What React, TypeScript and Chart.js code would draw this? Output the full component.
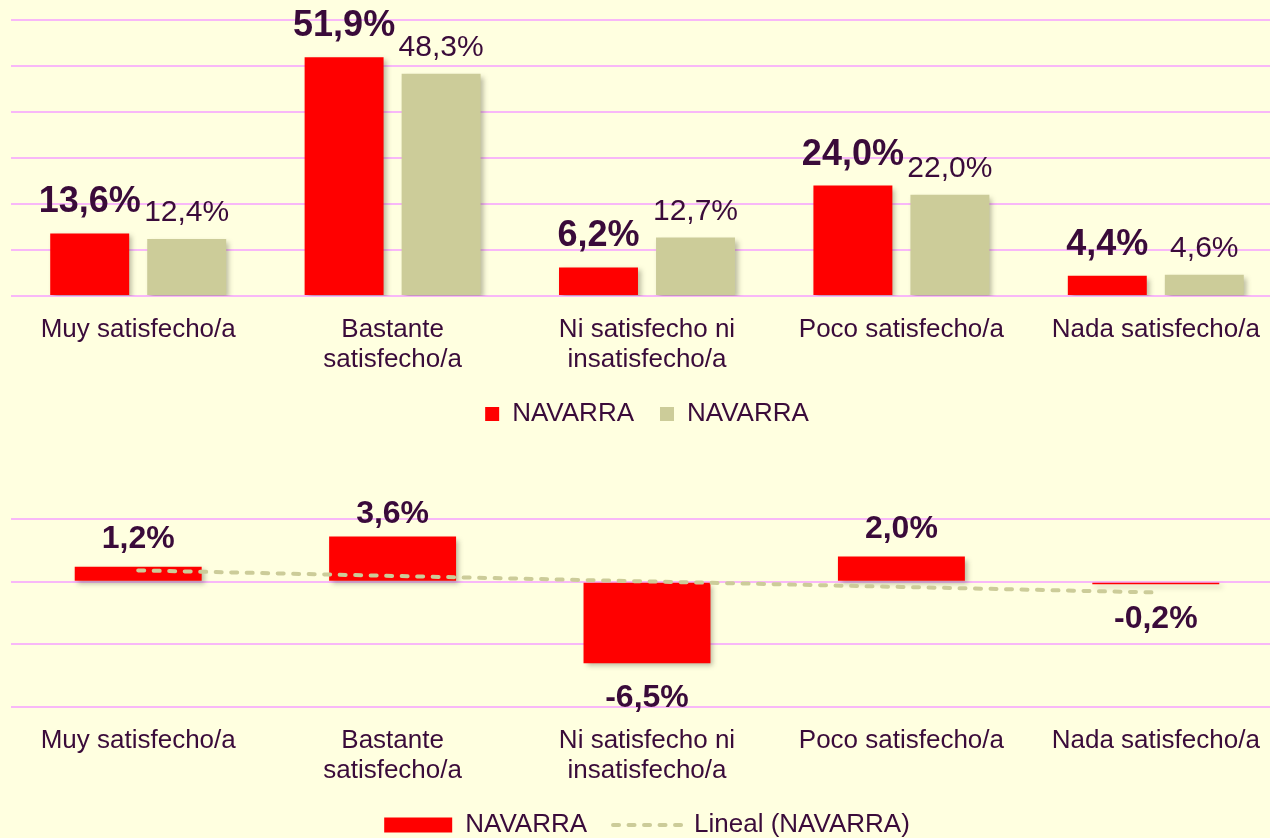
import React, { useEffect, useRef } from 'react';
import { Chart, registerables } from 'chart.js';

Chart.register(...registerables);

// ---------- data ----------
const categories: (string | string[])[] = [
  'Muy satisfecho/a',
  ['Bastante', 'satisfecho/a'],
  ['Ni satisfecho ni', 'insatisfecho/a'],
  'Poco satisfecho/a',
  'Nada satisfecho/a',
];
const seriesNames = ['NAVARRA', 'NAVARRA'];
const seriesA = [13.6, 51.9, 6.2, 24.0, 4.4];
const seriesB = [12.4, 48.3, 12.7, 22.0, 4.6];
const diffName = 'NAVARRA';
const trendName = 'Lineal (NAVARRA)';
const diffValues = [1.2, 3.6, -6.5, 2.0, -0.2];
const topAxis = { min: 0, max: 60, step: 10 };
const bottomAxis = { min: -10, max: 5, step: 5 };

// ---------- style ----------
const FONT = "'Liberation Sans', Arial, sans-serif";
const TEXT = '#3A0B3A';
const RED = '#FF0000';
const TAN = '#CCCC99';
const GRID = '#F8B8F8';
const BG = '#FFFFE0';
const TREND_DASH = [6, 9.5];
const TREND_WIDTH = 4;
const CANVAS_W = 1283; // plot area runs slightly past the visible right edge

// linear trendline (least squares) computed from the difference series
function linearTrend(vals: number[]): number[] {
  const n = vals.length;
  const xs = vals.map((_, i) => i + 1);
  const mx = xs.reduce((a, b) => a + b, 0) / n;
  const my = vals.reduce((a, b) => a + b, 0) / n;
  let num = 0;
  let den = 0;
  xs.forEach((x, i) => {
    num += (x - mx) * (vals[i] - my);
    den += (x - mx) * (x - mx);
  });
  const slope = num / den;
  return xs.map((x) => my + slope * (x - mx));
}

const fmt = (v: number) => v.toFixed(1).replace('.', ',') + '%';

const valueLabels = {
  id: 'valueLabels',
  afterDatasetsDraw(chart: any, _args: any, opts: any) {
    const specs = (opts && opts.specs) || [];
    const ctx = chart.ctx;
    specs.forEach((spec: any) => {
      const meta = chart.getDatasetMeta(spec.dataset);
      const data = chart.data.datasets[spec.dataset].data as number[];
      ctx.save();
      ctx.font = `${spec.weight} ${spec.size}px ${FONT}`;
      ctx.fillStyle = TEXT;
      ctx.textAlign = 'center';
      ctx.textBaseline = 'alphabetic';
      meta.data.forEach((el: any, i: number) => {
        const v = data[i];
        const { x, y } = el.getProps(['x', 'y'], true);
        let ty: number;
        if (v >= 0) {
          ty = y - spec.above;
          if (spec.minTop !== undefined) ty = Math.max(ty, chart.chartArea.top + spec.minTop);
        } else {
          ty = y + spec.below;
        }
        ctx.fillText(fmt(v), x, ty);
      });
      ctx.restore();
    });
  },
};

const barShadow = {
  id: 'barShadow',
  beforeDatasetDraw(chart: any, args: any) {
    if (args.meta.type === 'bar') {
      const c = chart.ctx;
      c.save();
      c.shadowColor = 'rgba(60,60,40,0.35)';
      c.shadowBlur = 5;
      c.shadowOffsetX = 3;
      c.shadowOffsetY = 3;
    }
  },
  afterDatasetDraw(chart: any, args: any) {
    if (args.meta.type === 'bar') chart.ctx.restore();
  },
};

const tickFont = { family: FONT, size: 26, lineHeight: 30 / 26 };

const xScale = {
  grid: { display: false, drawTicks: false },
  border: { display: false },
  ticks: { color: TEXT, font: tickFont, padding: 19, maxRotation: 0, autoSkip: false },
  afterFit: (scale: any) => {
    scale.height = 79;
  },
};

function TopChart() {
  const ref = useRef<HTMLCanvasElement>(null);
  useEffect(() => {
    const chart = new Chart(ref.current!, {
      type: 'bar',
      data: {
        labels: categories as any,
        datasets: [
          { label: seriesNames[0], data: seriesA, backgroundColor: RED, borderWidth: 0 },
          { label: seriesNames[1], data: seriesB, backgroundColor: TAN, borderWidth: 0 },
        ],
      },
      options: {
        responsive: false,
        animation: false,
        events: [],
        datasets: { bar: { categoryPercentage: 0.7626, barPercentage: 0.814 } },
        layout: { padding: { top: 20, left: 11, right: 0, bottom: 0 } },
        scales: {
          x: xScale as any,
          y: {
            min: topAxis.min,
            max: topAxis.max,
            ticks: { display: false, stepSize: topAxis.step },
            grid: { color: GRID, lineWidth: 2, drawTicks: false },
            border: { display: false },
          },
        },
        plugins: {
          legend: {
            position: 'bottom',
            labels: {
              color: TEXT,
              font: { family: FONT, size: 26 },
              boxWidth: 14,
              boxHeight: 14,
              padding: 26,
            },
          },
          tooltip: { enabled: false },
          valueLabels: {
            specs: [
              { dataset: 0, weight: 'bold', size: 36, above: 21 },
              { dataset: 1, weight: 'normal', size: 30, above: 18 },
            ],
          },
        } as any,
      },
      plugins: [valueLabels, barShadow],
    });
    return () => chart.destroy();
  }, []);
  return <canvas ref={ref} width={CANVAS_W} height={437} style={{ position: 'absolute', left: 0, top: 0 }} />;
}

function BottomChart() {
  const ref = useRef<HTMLCanvasElement>(null);
  useEffect(() => {
    const trend = linearTrend(diffValues);
    const chart = new Chart(ref.current!, {
      type: 'bar',
      data: {
        labels: categories as any,
        datasets: [
          {
            type: 'bar',
            label: diffName,
            data: diffValues,
            backgroundColor: RED,
            borderWidth: 0,
            order: 1,
            pointStyle: 'rect',
            categoryPercentage: 1,
            barPercentage: 0.499,
          } as any,
          {
            type: 'line',
            label: trendName,
            data: trend,
            borderColor: TAN,
            backgroundColor: TAN,
            borderWidth: TREND_WIDTH,
            borderDash: TREND_DASH,
            borderCapStyle: 'round',
            pointRadius: 0,
            pointStyle: 'line',
            fill: false,
            order: 0,
          } as any,
        ],
      },
      options: {
        responsive: false,
        animation: false,
        events: [],
        layout: { padding: { top: 82, left: 11, right: 0, bottom: 0 } },
        scales: {
          x: xScale as any,
          y: {
            min: bottomAxis.min,
            max: bottomAxis.max,
            ticks: { display: false, stepSize: bottomAxis.step },
            grid: { color: GRID, lineWidth: 2, drawTicks: false },
            border: { display: false },
          },
        },
        plugins: {
          legend: {
            position: 'bottom',
            labels: {
              color: TEXT,
              font: { family: FONT, size: 26 },
              usePointStyle: true,
              pointStyleWidth: 68,
              boxHeight: 15,
              padding: 26,
              sort: (a: any, b: any) => a.datasetIndex - b.datasetIndex,
              generateLabels: (ch: any) => {
                const items = (Chart.defaults.plugins.legend.labels as any).generateLabels(ch);
                return items.map((it: any) => {
                  const ds = ch.data.datasets[it.datasetIndex];
                  if (ds.type === 'line') {
                    return {
                      ...it,
                      lineDash: TREND_DASH,
                      lineWidth: TREND_WIDTH,
                      lineCap: 'round',
                      strokeStyle: TAN,
                      fillStyle: 'rgba(0,0,0,0)',
                      pointStyle: 'line',
                    };
                  }
                  return { ...it, pointStyle: 'rect', fillStyle: RED, lineWidth: 0 };
                });
              },
            },
          },
          tooltip: { enabled: false },
          valueLabels: {
            specs: [{ dataset: 0, weight: 'bold', size: 32, above: 19, below: 44, minTop: 4 }],
          },
        } as any,
      },
      plugins: [valueLabels, barShadow],
    });
    return () => chart.destroy();
  }, []);
  return <canvas ref={ref} width={CANVAS_W} height={411} style={{ position: 'absolute', left: 0, top: 437 }} />;
}

export default function App() {
  return (
    <div
      style={{
        position: 'fixed',
        left: 0,
        top: 0,
        width: 1270,
        height: 838,
        overflow: 'hidden',
        background: BG,
      }}
    >
      <TopChart />
      <BottomChart />
    </div>
  );
}
